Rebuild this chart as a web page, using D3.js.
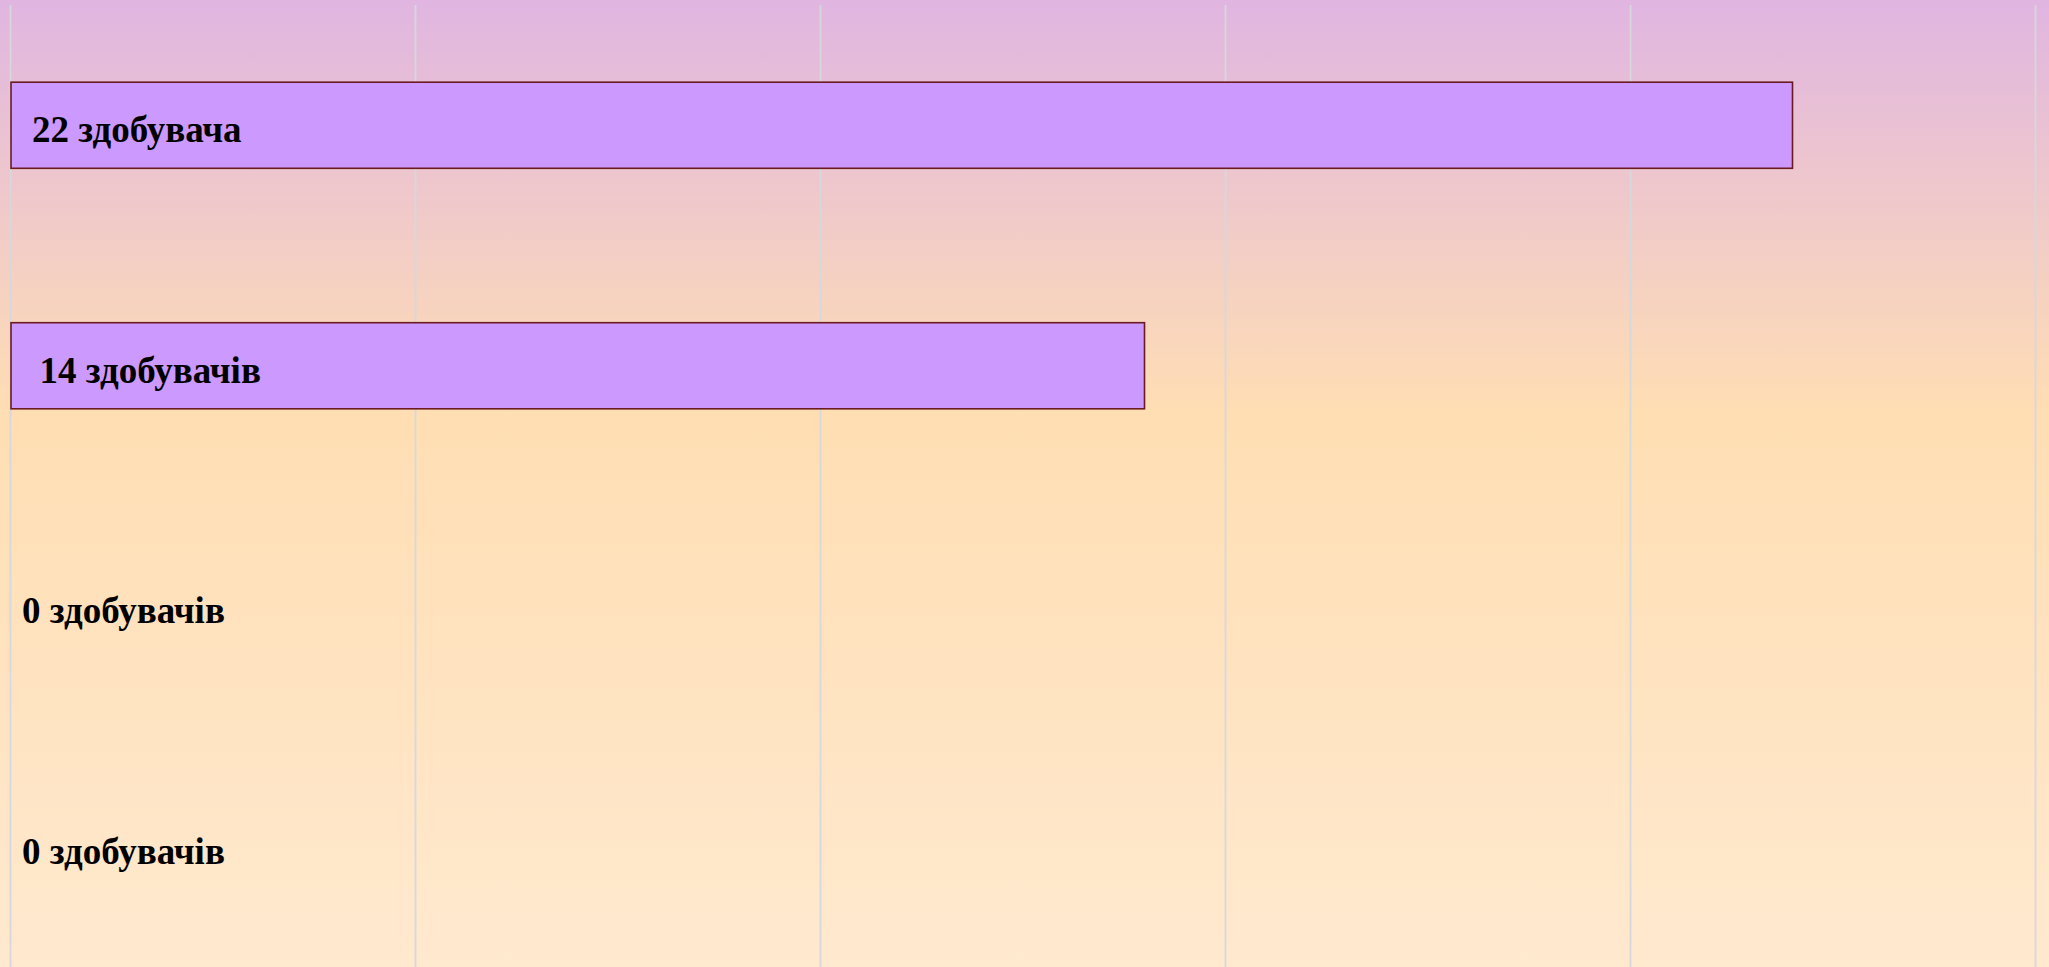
<!DOCTYPE html>
<html><head><meta charset="utf-8">
<script src="https://cdn.jsdelivr.net/npm/d3@7"></script>
<style>html,body{margin:0;padding:0;overflow:hidden;}svg{display:block;}</style>
</head><body>
<script>
const categories = ["A", "B", "C", "D"];
const values = [22, 14, 0, 0];
const labels = ["22 здобувача", "14 здобувачів", "0 здобувачів", "0 здобувачів"];
const ticks = [0, 5, 10, 15, 20, 25];

const W = 2049, H = 967;
const svg = d3.select("body").append("svg").attr("width", W).attr("height", H);
const defs = svg.append("defs");
const g = defs.append("linearGradient").attr("id", "bg").attr("x1", 0).attr("y1", 0).attr("x2", 0).attr("y2", 1);
g.append("stop").attr("offset", "0").attr("stop-color", "#e0b5e1");
g.append("stop").attr("offset", "0.43").attr("stop-color", "#ffdeb3");
g.append("stop").attr("offset", "1").attr("stop-color", "#ffe9cf");
svg.append("rect").attr("width", W).attr("height", H).attr("fill", "url(#bg)");

const x = d3.scaleLinear().domain([0, 25]).range([10.5, 2035.5]);
const y = d3.scaleBand().domain(categories).range([5, 967]).paddingInner(0.642).paddingOuter(0.321);

svg.append("g").selectAll("line").data(ticks).join("line")
  .attr("x1", d => x(d)).attr("x2", d => x(d))
  .attr("y1", 5).attr("y2", H)
  .attr("stroke", "#d6d8dc").attr("stroke-width", 1.8);

const data = categories.map((c, i) => ({c, v: values[i], l: labels[i]}));
svg.append("g").selectAll("rect").data(data.filter(d => d.v > 0)).join("rect")
  .attr("x", x(0) + 0.5).attr("y", d => y(d.c))
  .attr("width", d => x(d.v) - x(0) - 0.5).attr("height", y.bandwidth())
  .attr("fill", "#cc99ff").attr("stroke", "#6b1a20").attr("stroke-width", 1.6);

const labelDx = [21.5, 29, 11.5, 11.5];
svg.append("g").selectAll("text").data(data).join("text")
  .attr("x", (d, i) => x(0) + labelDx[i])
  .attr("y", d => y(d.c) + y.bandwidth() / 2 + 17)
  .attr("font-family", "'Liberation Serif', 'Times New Roman', serif")
  .attr("font-weight", "bold").attr("font-size", 37).attr("fill", "#000")
  .text(d => d.l);
</script>
</body></html>
